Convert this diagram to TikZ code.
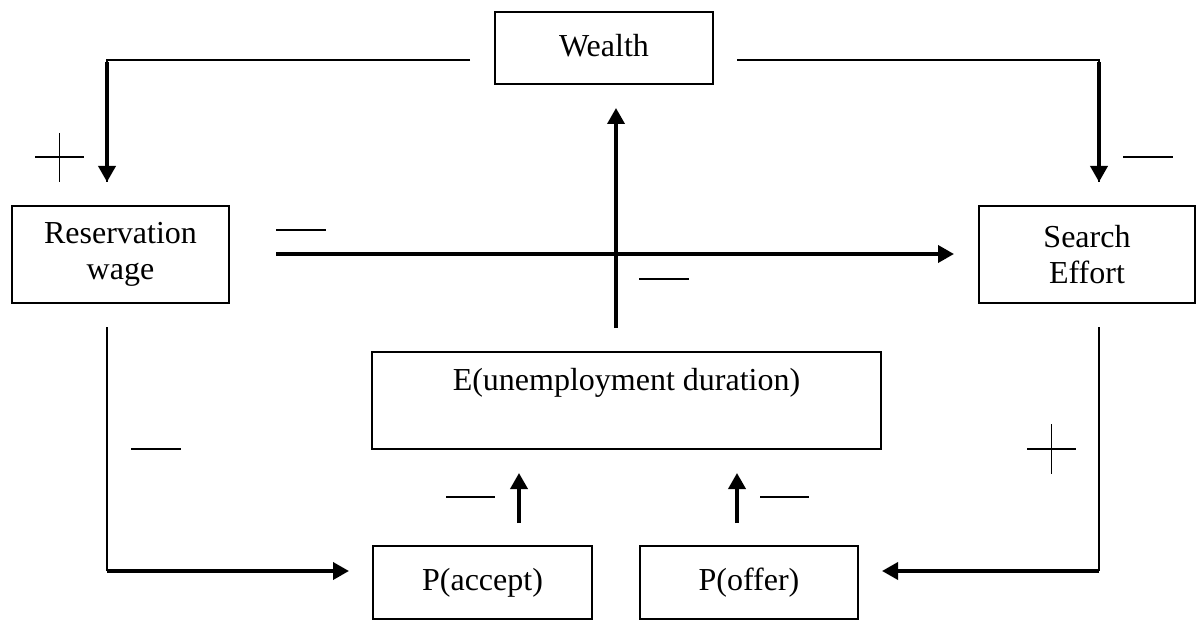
\documentclass[tikz,border=0pt]{standalone}
\usepackage{fontspec}
\setmainfont{Liberation Serif}
\usetikzlibrary{arrows.meta}
\begin{document}
\begin{tikzpicture}[x=1pt,y=-1pt,
  box/.style={draw,line width=1.6pt,inner sep=0pt,align=center,
    font=\fontsize{32}{36}\selectfont},
  lbl/.style={inner sep=0pt,font=\fontsize{32}{36}\selectfont},
  thin/.style={line width=2pt},
  thick/.style={line width=3.6pt},
  tip/.style={-{Triangle[length=16pt,width=17pt]}},
  signline/.style={line width=1.5pt}]
\useasboundingbox (0,0) rectangle (1196,628);
\clip (0,0) rectangle (1196,628);
% boxes
\node[box,minimum width=218pt,minimum height=72pt] (wealth) at (604,48) {\raisebox{5pt}{Wealth}};
\node[box,minimum width=217pt,minimum height=97pt] (res) at (120.5,254.5) {Reservation\\wage};
\node[box,minimum width=216pt,minimum height=97pt] (se) at (1087,254.5) {Search\\Effort};
\node[box,minimum width=509pt,minimum height=97pt] (E) at (626.5,400.5) {};
\node[lbl] (Etext) at (626.5,383) {E(unemployment duration)};
\node[box,minimum width=219pt,minimum height=73pt] (pa) at (482.5,582.5) {\raisebox{3pt}{P(accept)}};
\node[box,minimum width=218pt,minimum height=73pt] (po) at (749,582.5) {\raisebox{3pt}{P(offer)}};
% connector end points
\coordinate (wl) at (470,60);
\coordinate (wr) at (737,60);
\coordinate (rt) at (107,182);
\coordinate (st) at (1099,182);
\coordinate (hs) at (276,254);
\coordinate (he) at (954,254);
\coordinate (vs) at (616,328);
\coordinate (ve) at (616,108);
\coordinate (rb) at (107,327);
\coordinate (pae) at (349,571);
\coordinate (sb) at (1099,327);
\coordinate (poe) at (882,571);
\coordinate (a1s) at (519,523);
\coordinate (a1e) at (519,473);
\coordinate (a2s) at (737,523);
\coordinate (a2e) at (737,473);
% connectors
\draw[thin] (wl) -| (rt);
\draw[thick,tip] (107,62) -- (rt);
\draw[thin] (wr) -| (st);
\draw[thick,tip] (1099,62) -- (st);
\draw[thick,tip] (hs) -- (he);
\draw[thick,tip] (vs) -- (ve);
\draw[thin] (rb) -- (rb |- pae);
\draw[thick,tip] (rb |- pae) -- (pae);
\draw[thin] (sb) -- (sb |- poe);
\draw[thick,tip] (sb |- poe) -- (poe);
\draw[thick,tip] (a1s) -- (a1e);
\draw[thick,tip] (a2s) -- (a2e);
% signs
\draw[signline] (35,157) -- (84,157) (59.5,133) -- (59.5,182);
\draw[signline] (1123,157) -- (1173,157);
\draw[signline] (276,230) -- (326,230);
\draw[signline] (639,279) -- (689,279);
\draw[signline] (131,449) -- (181,449);
\draw[signline] (446,497) -- (495,497);
\draw[signline] (760,497) -- (809,497);
\draw[signline] (1027,449) -- (1076,449) (1051.5,424) -- (1051.5,474);
\end{tikzpicture}
\end{document}
